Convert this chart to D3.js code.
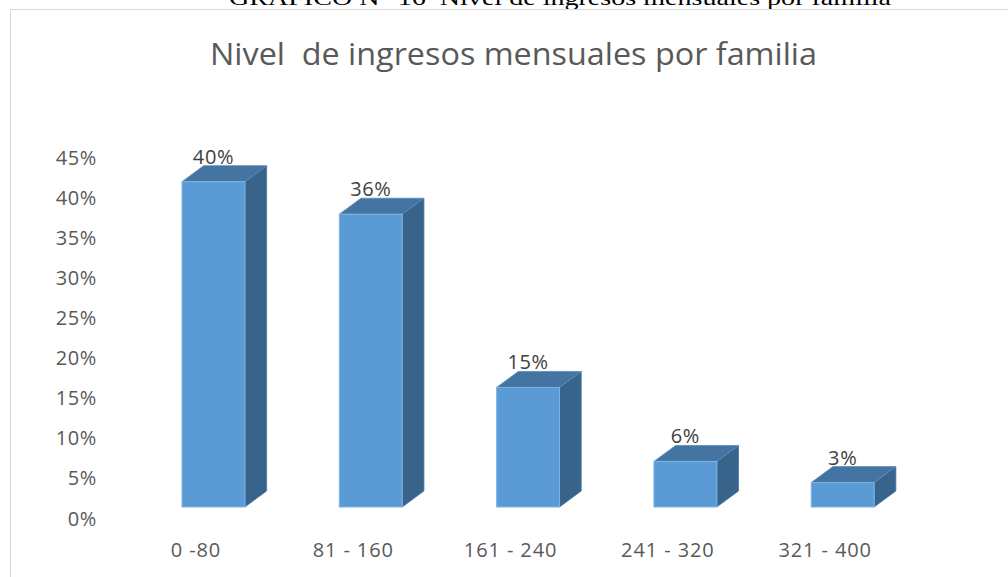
<!DOCTYPE html>
<html><head><meta charset="utf-8">
<script src="https://cdn.jsdelivr.net/npm/d3@7"></script>
<style>html,body{margin:0;padding:0;background:#fff;overflow:hidden} text{white-space:pre}</style>
</head><body>
<svg id="c" width="1008" height="577"></svg>
<script>
const categories = ["0 -80", "81 - 160", "161 - 240", "241 - 320", "321 - 400"];
const values = [0.40, 0.36, 0.147, 0.056, 0.03];
const yTicks = [0, 0.05, 0.10, 0.15, 0.20, 0.25, 0.30, 0.35, 0.40, 0.45];
const titleText = "Nivel  de ingresos mensuales por familia";
const captionText = "GRÁFICO N° 16  Nivel de ingresos mensuales por familia";

const svg = d3.select("#c");
const fmt = d3.format(".0%");
const FONT = "Open Sans, sans-serif";

// caption above chart (cut off at top)
svg.append("text").attr("x", 560).attr("y", 5).attr("text-anchor", "middle")
  .attr("font-family", "Liberation Serif, Times New Roman, serif").attr("font-size", 21)
  .attr("textLength", 662).attr("lengthAdjust", "spacingAndGlyphs")
  .attr("fill", "#000").text(captionText);

// chart border
svg.append("rect").attr("x", 10.5).attr("y", 9.5).attr("width", 1100).attr("height", 700)
  .attr("fill", "#fff").attr("stroke", "#d9d9d9").attr("stroke-width", 1);

// title
svg.append("text").attr("x", 513.5).attr("y", 65).attr("text-anchor", "middle")
  .attr("font-family", FONT).attr("font-size", 31)
  .attr("textLength", 607).attr("lengthAdjust", "spacingAndGlyphs")
  .attr("fill", "#595959").text(titleText);

// scales
const x = d3.scaleBand().domain(categories).range([103.35, 952.8]).paddingInner(0.6).paddingOuter(0.5);
const yFront = d3.scaleLinear().domain([0, 0.45]).range([507, 141]);
const yAxisScale = d3.scaleLinear().domain([0, 0.45]).range([518, 157]);
const dx = 21.7, dy = -16;

// y axis
const ya = svg.append("g").attr("transform", "translate(97,0)")
  .call(d3.axisLeft(yAxisScale).tickValues(yTicks).tickFormat(fmt).tickSize(0).tickPadding(0));
ya.select(".domain").remove();
ya.selectAll("text").attr("font-family", FONT).attr("font-size", 20)
  .attr("letter-spacing", 0.6).attr("fill", "#595959").attr("dy", "0.35em");

// x axis labels
const xa = svg.append("g").attr("transform", "translate(-17.5,550)")
  .call(d3.axisBottom(x).tickSize(0).tickPadding(0));
xa.select(".domain").remove();
xa.selectAll("text").attr("font-family", FONT).attr("font-size", 20)
  .attr("letter-spacing", 0.9).attr("fill", "#595959").attr("dy", "0.35em");

// bars
const bars = svg.append("g").selectAll("g").data(values).join("g");
bars.each(function(v, i) {
  const g = d3.select(this);
  const x0 = x(categories[i]), w = x.bandwidth();
  const yT = yFront(v), yB = yFront(0);
  g.append("polygon").attr("points", [[x0 + w, yT], [x0 + w + dx, yT + dy], [x0 + w + dx, yB + dy], [x0 + w, yB]].join(" "))
    .attr("fill", "#38638A").attr("stroke", "#4a77a3").attr("stroke-width", 0.8);
  g.append("polygon").attr("points", [[x0, yT], [x0 + dx, yT + dy], [x0 + w + dx, yT + dy], [x0 + w, yT]].join(" "))
    .attr("fill", "#4475A2").attr("stroke", "#5a8cbb").attr("stroke-width", 0.8);
  g.append("rect").attr("x", x0).attr("y", yT).attr("width", w).attr("height", yB - yT)
    .attr("fill", "#5B9BD5").attr("stroke", "#7fb3e3").attr("stroke-width", 1);
  g.append("text").attr("x", x0 + w / 2).attr("y", yT + dy - 2).attr("text-anchor", "middle")
    .attr("font-family", FONT).attr("font-size", 20).attr("letter-spacing", 0.6).attr("fill", "#404040")
    .text(fmt(v));
});
</script>
</body></html>
